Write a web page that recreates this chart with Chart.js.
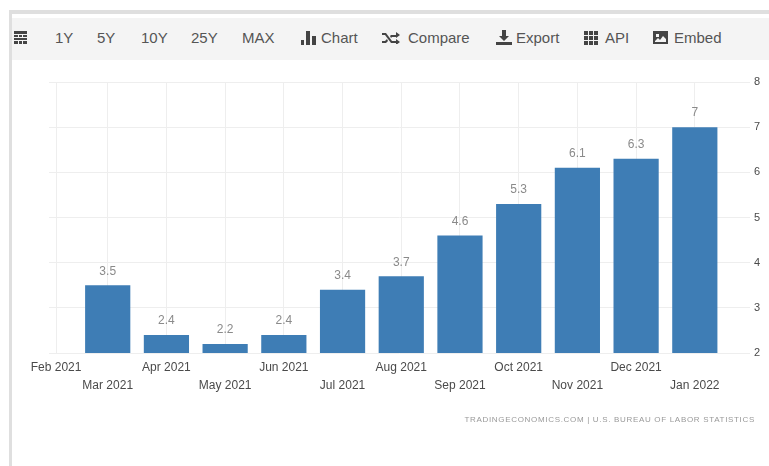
<!DOCTYPE html>
<html>
<head>
<meta charset="utf-8">
<title>United States Inflation Rate</title>
<script src="https://cdn.jsdelivr.net/npm/chart.js@4"></script>
<style>
	html, body { margin: 0; padding: 0; background: #fff; }
	body { position: relative; width: 769px; height: 466px; overflow: hidden; font-family: "Liberation Sans", Arial, sans-serif; }
	#frame { position: absolute; left: 9px; top: 10px; right: 0; bottom: 0; border-left: 3px solid #dfdfdf; border-top: 4px solid #dfdfdf; }
	#toolbar { position: absolute; left: 12px; top: 18px; right: 0; height: 42px; background: #f4f4f4; }
	#toolbar span { position: absolute; top: 11px; font-size: 15px; line-height: 18px; color: #555; white-space: nowrap; }
	#toolbar svg { position: absolute; fill: #444; }
	#chart { position: absolute; left: 0; top: 0; }
	#source { position: absolute; right: 14px; top: 415px; font-size: 8px; line-height: 10px; letter-spacing: 0.68px; color: #999; white-space: nowrap; }
</style>
</head>
<body>
<div id="frame"></div>
<div id="toolbar">
	<svg style="left:2px;top:13px" width="13" height="14"><path d="M0 0h13v3H0zM0 4h4v2H0zM5 4h3v2H5zM9 4h4v2H9zM0 7h13v2H0zM0 10h4v3H0zM5 10h3v3H5zM9 10h4v3H9z"/></svg>
	<span style="left:43px">1Y</span>
	<span style="left:85px">5Y</span>
	<span style="left:129px">10Y</span>
	<span style="left:179px">25Y</span>
	<span style="left:230px">MAX</span>
	<svg style="left:289px;top:13px" width="15" height="14"><path d="M0 9h3v5H0zM5 0h4v14H5zM11 5h4v9h-4z"/></svg>
	<span style="left:309px">Chart</span>
	<svg style="left:370px;top:14px" width="18" height="12"><path d="M0 1h4l6 8h4V7l4 3-4 3v-2H9L3 3H0zM0 9h3l2-2 1 2-2 2H0zM9 3h5V0l4 3-4 3V5h-4l-1 1-1-2z"/></svg>
	<span style="left:396px">Compare</span>
	<svg style="left:484px;top:12px" width="16" height="15"><path d="M6 0h4v6h3l-5 5-5-5h3zM0 12h16v3H0z"/></svg>
	<span style="left:504px">Export</span>
	<svg style="left:572px;top:13px" width="15" height="14"><path d="M0 0h4v4H0zM5 0h4v4H5zM10 0h4v4h-4zM0 5h4v4H0zM5 5h4v4H5zM10 5h4v4h-4zM0 10h4v4H0zM5 10h4v4H5zM10 10h4v4h-4z"/></svg>
	<span style="left:593px">API</span>
	<svg style="left:641px;top:13px" width="15" height="13"><path fill-rule="evenodd" d="M0 0h15v13H0zM2 2v9h11V8l-3-3-3 4-2-2-3 3zM3 3h3v3H3z"/></svg>
	<span style="left:662px">Embed</span>
</div>
<canvas id="chart" width="769" height="466"></canvas>
<div id="source">TRADINGECONOMICS.COM  |  U.S. BUREAU OF LABOR STATISTICS</div>
<script>
const months = ['Feb 2021', 'Mar 2021', 'Apr 2021', 'May 2021', 'Jun 2021', 'Jul 2021', 'Aug 2021', 'Sep 2021', 'Oct 2021', 'Nov 2021', 'Dec 2021', 'Jan 2022'];
// Feb 2021 sits under the axis minimum, so it has no bar
const rates = [null, 3.5, 2.4, 2.2, 2.4, 3.4, 3.7, 4.6, 5.3, 6.1, 6.3, 7];
const yTicks = [2, 3, 4, 5, 6, 7, 8];

// writes each rate above its bar
const barValues = {
	id: 'barValues',
	afterDatasetsDraw(chart) {
		const ctx = chart.ctx;
		ctx.save();
		ctx.font = '12px "Liberation Sans", Arial, sans-serif';
		ctx.fillStyle = '#8a8a8a';
		ctx.textAlign = 'center';
		ctx.textBaseline = 'middle';
		chart.getDatasetMeta(0).data.forEach((bar, i) => {
			if (rates[i] === null) return;
			ctx.fillText(String(rates[i]), bar.x, bar.y - 14);
		});
		ctx.restore();
	}
};

chartIt();

function chartIt() {
	const ctx = document.getElementById('chart').getContext('2d');
	new Chart(ctx, {
		type: 'bar',
		data: {
			datasets: [{
				label: 'Inflation rate',
				data: rates.map((rate, i) => ({ x: i, y: rate })),
				backgroundColor: '#3e7db5',
				barPercentage: 0.875,
				categoryPercentage: 1
			}]
		},
		options: {
			responsive: false,
			animation: false,
			layout: { padding: { left: 49, top: 82, right: 0, bottom: 0 } },
			plugins: { legend: { display: false }, tooltip: { enabled: false } },
			scales: {
				x: {
					type: 'linear',
					offset: false,
					min: 0,
					max: 11.94,
					// one tick per month, the first nudged so its label clears the edge
					afterBuildTicks: scale => {
						scale.ticks = months.map((m, i) => ({ value: i === 0 ? 0.12 : i }));
					},
					afterFit: scale => { scale.height = 113; },
					grid: { color: '#eeeeee', drawTicks: false, offset: false },
					border: { display: false },
					ticks: {
						autoSkip: false,
						maxRotation: 0,
						padding: 5,
						color: '#4a4a4a',
						font: { family: '"Liberation Sans", Arial, sans-serif', size: 12, lineHeight: 1.55 },
						callback: value => {
							const i = Math.round(value);
							return i % 2 ? ['', months[i]] : months[i];
						}
					}
				},
				y: {
					position: 'right',
					min: 2,
					max: 8,
					afterBuildTicks: scale => {
						scale.ticks = yTicks.map(value => ({ value }));
					},
					afterFit: scale => { scale.width = 19; },
					grid: { color: '#eeeeee', drawTicks: false },
					border: { display: false },
					ticks: {
						padding: 4,
						color: '#4a4a4a',
						font: { family: '"Liberation Sans", Arial, sans-serif', size: 11 }
					}
				}
			}
		},
		plugins: [barValues]
	});
}
</script>
</body>
</html>
